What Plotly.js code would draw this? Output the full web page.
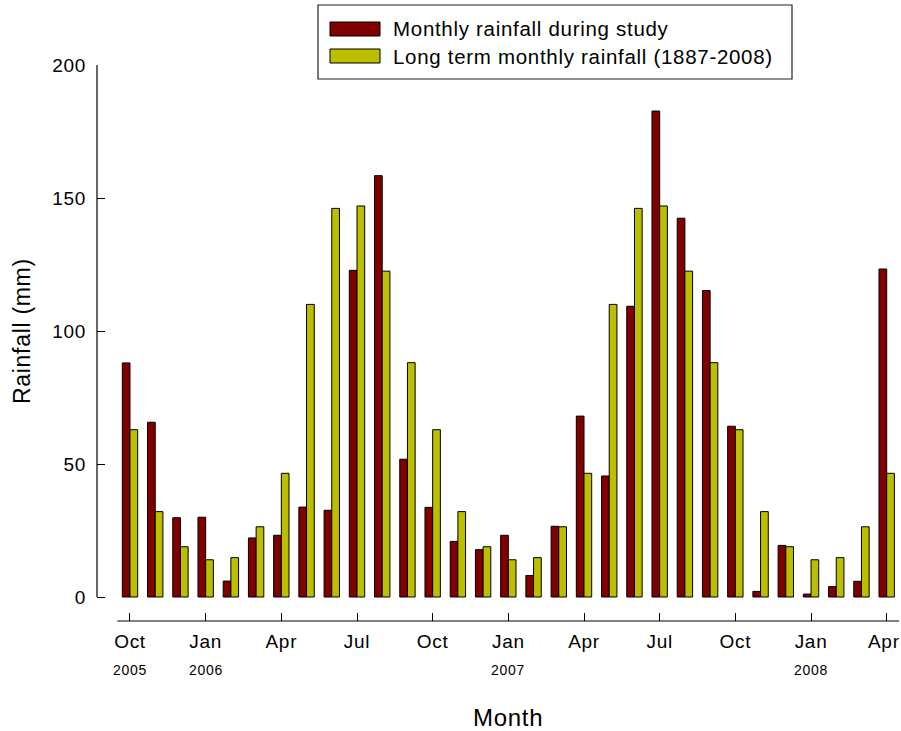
<!DOCTYPE html>
<html>
<head>
<meta charset="utf-8">
<script src="https://cdn.plot.ly/plotly-3.0.1.min.js"></script>
<style>
  html, body { margin: 0; padding: 0; background: #ffffff; }
  #chart { width: 901px; height: 731px; }
  /* slightly open lettering, as in the printed figure (also used when text is measured) */
  text { letter-spacing: 0.7px; }
</style>
</head>
<body>
<div id="chart"></div>
<script>
// Month-by-month rainfall, October 2005 to April 2008
const months = [
  'Oct 2005', 'Nov 2005', 'Dec 2005',
  'Jan 2006', 'Feb 2006', 'Mar 2006', 'Apr 2006', 'May 2006', 'Jun 2006',
  'Jul 2006', 'Aug 2006', 'Sep 2006', 'Oct 2006', 'Nov 2006', 'Dec 2006',
  'Jan 2007', 'Feb 2007', 'Mar 2007', 'Apr 2007', 'May 2007', 'Jun 2007',
  'Jul 2007', 'Aug 2007', 'Sep 2007', 'Oct 2007', 'Nov 2007', 'Dec 2007',
  'Jan 2008', 'Feb 2008', 'Mar 2008', 'Apr 2008'
];

// Rainfall recorded during the study (mm)
const studyRainfall = [
  88.0, 65.7, 29.8,
  30.0, 6.0, 22.2, 23.2, 33.8, 32.6, 122.8, 158.4, 51.8, 33.7, 20.9, 17.8,
  23.2, 8.1, 26.6, 68.0, 45.5, 109.3, 182.7, 142.4, 115.2, 64.2, 2.1, 19.4,
  1.1, 3.9, 5.9, 123.3
];

// Long term mean for the same calendar month, 1887-2008 (mm)
const longTermRainfall = [
  62.9, 32.1, 18.9,
  14.0, 14.8, 26.4, 46.5, 110.0, 146.1, 147.0, 122.5, 88.1, 62.9, 32.1, 18.9,
  14.0, 14.8, 26.4, 46.5, 110.0, 146.1, 147.0, 122.5, 88.1, 62.9, 32.1, 18.9,
  14.0, 14.8, 26.4, 46.5
];

const seriesNames = ['Monthly rainfall during study', 'Long term monthly rainfall (1887-2008)'];
const seriesColors = ['#800000', '#bbbf00'];

// Quarterly tick marks on the month axis
const monthTickIndex = [0, 3, 6, 9, 12, 15, 18, 21, 24, 27, 30];
const monthTickText = ['Oct', 'Jan', 'Apr', 'Jul', 'Oct', 'Jan', 'Apr', 'Jul', 'Oct', 'Jan', 'Apr'];

// Year labels under the first month shown for each year
const yearLabelIndex = [0, 3, 15, 27];
const yearLabelText = ['2005', '2006', '2007', '2008'];

const rainTicks = [0, 50, 100, 150, 200];
const axisTitles = { x: 'Month', y: 'Rainfall (mm)' };

// ---- geometry helpers (pixel -> paper fractions) ----
const W = 901, H = 731;
const M = { l: 97, r: 2, t: 65, b: 110 };
const plotW = W - M.l - M.r;
const plotH = H - M.t - M.b;
const px = x => (x - M.l) / plotW;
const py = y => (H - M.b - y) / plotH;

const FONT = 'Liberation Sans, Arial, Helvetica, sans-serif';
const TICK_FONT = { family: FONT, size: 19, color: '#000000' };
const monthIndex = months.map((_, i) => i);
const lastTick = monthTickIndex.length - 1;
const yTop = rainTicks[rainTicks.length - 1];

const traces = [
  {
    type: 'bar', name: seriesNames[0], x: monthIndex, y: studyRainfall,
    marker: { color: seriesColors[0], line: { color: '#000000', width: 1 } },
    hovertext: months, hoverinfo: 'text+y'
  },
  {
    type: 'bar', name: seriesNames[1], x: monthIndex, y: longTermRainfall,
    marker: { color: seriesColors[1], line: { color: '#000000', width: 1 } },
    hovertext: months, hoverinfo: 'text+y'
  }
];

const shapes = [
  // detached value axis line
  { type: 'line', xref: 'paper', yref: 'y', x0: 0, x1: 0, y0: 0, y1: yTop,
    line: { color: '#000000', width: 1.2 } },
  // detached month axis line
  { type: 'line', xref: 'x', yref: 'paper', x0: -0.5, x1: months.length - 0.5, y0: 0, y1: 0,
    line: { color: '#000000', width: 1.2 } },
  // key frame
  { type: 'rect', xref: 'paper', yref: 'paper', x0: px(318), x1: px(792), y0: py(79), y1: py(5),
    line: { color: '#222222', width: 1.2 }, fillcolor: '#ffffff' },
  // key swatches
  { type: 'rect', xref: 'paper', yref: 'paper', x0: px(330), x1: px(380), y0: py(36), y1: py(22),
    line: { color: '#000000', width: 1 }, fillcolor: seriesColors[0] },
  { type: 'rect', xref: 'paper', yref: 'paper', x0: px(330), x1: px(380), y0: py(63), y1: py(49),
    line: { color: '#000000', width: 1 }, fillcolor: seriesColors[1] }
];

const annotations = [
  { xref: 'paper', yref: 'paper', x: px(391), y: py(29), xanchor: 'left', yanchor: 'middle',
    showarrow: false, text: seriesNames[0], font: { family: FONT, size: 20.5, color: '#000000' } },
  { xref: 'paper', yref: 'paper', x: px(391), y: py(56), xanchor: 'left', yanchor: 'middle',
    showarrow: false, text: seriesNames[1], font: { family: FONT, size: 20.5, color: '#000000' } },
  // the final month label sits against the page edge, so it is pulled in a few pixels
  { xref: 'x', yref: 'paper', x: monthTickIndex[lastTick], y: py(641), xanchor: 'center', yanchor: 'middle',
    xshift: -3, showarrow: false, text: monthTickText[lastTick], font: TICK_FONT },
  // axis titles, centred on the drawn axis lines
  { xref: 'x', yref: 'paper', x: (months.length - 1) / 2, y: py(717), xanchor: 'center', yanchor: 'middle',
    showarrow: false, text: axisTitles.x, font: { family: FONT, size: 24, color: '#000000' } },
  { xref: 'paper', yref: 'y', x: px(22), y: yTop / 2, xanchor: 'center', yanchor: 'middle',
    textangle: -90, showarrow: false, text: axisTitles.y, font: { family: FONT, size: 23, color: '#000000' } }
];
yearLabelIndex.forEach((idx, k) => {
  annotations.push({
    xref: 'x', yref: 'paper', x: idx, y: py(670), xanchor: 'center', yanchor: 'middle',
    showarrow: false, text: yearLabelText[k], font: { family: FONT, size: 14, color: '#000000' }
  });
});

const layout = {
  width: W, height: H,
  margin: M,
  paper_bgcolor: '#ffffff', plot_bgcolor: '#ffffff',
  showlegend: false,
  barmode: 'group', bargap: 0.39, bargroupgap: 0,
  font: { family: FONT, color: '#000000' },
  xaxis: {
    range: [-1.308, 30.488],
    tickmode: 'array', tickvals: monthTickIndex,
    ticktext: monthTickText.map((t, i) => (i === lastTick ? '' : t)),
    ticks: 'inside', ticklen: 8, tickwidth: 1.2, tickcolor: '#000000',
    tickfont: TICK_FONT,
    ticklabelstandoff: 7,
    showline: false, showgrid: false, zeroline: false, automargin: false
  },
  yaxis: {
    range: [-9.02, yTop],
    tickmode: 'array', tickvals: rainTicks,
    ticks: 'inside', ticklen: 8, tickwidth: 1.2, tickcolor: '#000000',
    tickfont: TICK_FONT,
    ticklabelstandoff: 10,
    showline: false, showgrid: false, zeroline: false, automargin: false
  },
  shapes: shapes,
  annotations: annotations
};

Plotly.newPlot('chart', traces, layout, { displayModeBar: false });
</script>
</body>
</html>
